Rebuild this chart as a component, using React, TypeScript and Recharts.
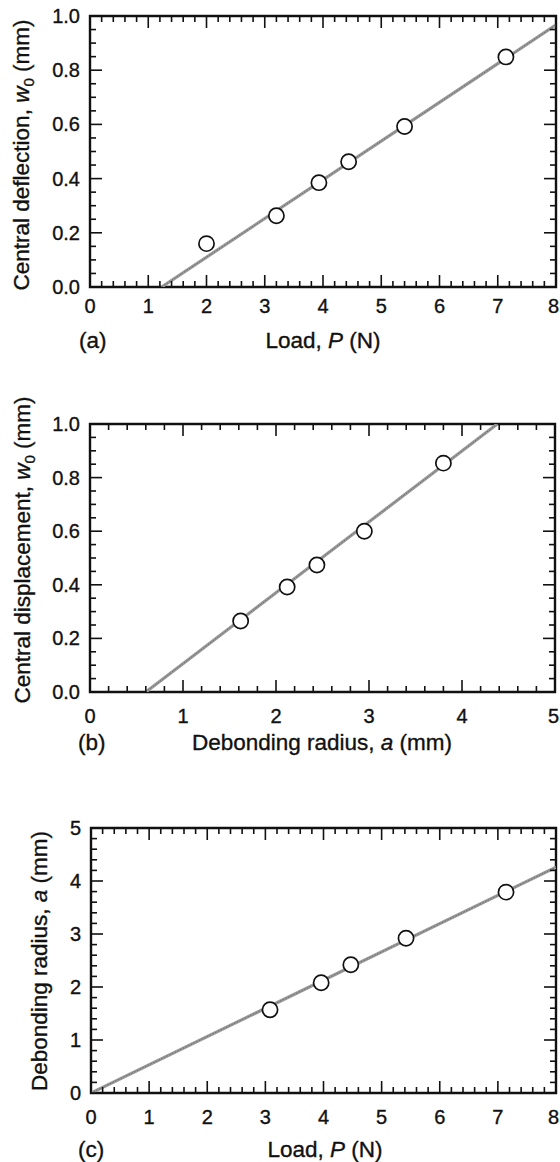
import React from "react";
import {
  ComposedChart,
  XAxis,
  YAxis,
  Scatter,
  Line,
  ReferenceArea,
  Label,
} from "recharts";

// ---------- data ----------
// (a) central deflection vs load
const loadA = [2.0, 3.2, 3.93, 4.44, 5.4, 7.14];
const deflA = [0.16, 0.263, 0.385, 0.462, 0.592, 0.849];
const fitAx = [1.23, 8];
const fitAy = [0, 0.967];

// (b) central displacement vs debonding radius
const radiusB = [1.62, 2.12, 2.44, 2.95, 3.8];
const dispB = [0.265, 0.392, 0.474, 0.6, 0.854];
const fitBx = [0.6, 4.38];
const fitBy = [0, 1.0];

// (c) debonding radius vs load
const loadC = [3.08, 3.96, 4.47, 5.42, 7.14];
const radiusC = [1.57, 2.08, 2.42, 2.92, 3.79];
const fitCx = [0, 8];
const fitCy = [0, 4.26];

// tick labels
const xTicksLoad = [0, 1, 2, 3, 4, 5, 6, 7, 8];
const xTicksRadius = [0, 1, 2, 3, 4, 5];
const yTicksW = [0, 0.2, 0.4, 0.6, 0.8, 1.0];
const yTicksRadius = [0, 1, 2, 3, 4, 5];

const FONT = "'Liberation Sans', Arial, Helvetica, sans-serif";
const TICK_FONT = 20;
const LABEL_FONT = 22.5;
const INK = "#111";

const zip = (xs: number[], ys: number[]) => xs.map((x, i) => ({ x, y: ys[i] }));

function minorTicks(major: number[], step: number): number[] {
  const lo = major[0];
  const hi = major[major.length - 1];
  const n = Math.round((hi - lo) / step);
  const out: number[] = [];
  for (let i = 0; i <= n; i++) out.push(+(lo + i * step).toFixed(4));
  return out;
}

const isMajor = (v: number, major: number[]) => major.some((m) => Math.abs(m - v) < 1e-6);

type PanelCfg = {
  top: number;
  height: number;
  plotLeft: number;
  plotRight: number;
  plotTop: number;
  plotBottom: number;
  xMajor: number[];
  xStep: number;
  yMajor: number[];
  yStep: number;
  yDecimals: number;
  xTickDy: number;
  xLabelY: number;
  tagX: number;
  tag: string;
  xLabel: React.ReactNode;
  xLabelCx: number;
  yLabel: React.ReactNode;
  yLabelCy: number;
  yLabelX: number;
  points: { x: number; y: number }[];
  fit: { x: number; y: number }[];
};

const MAJOR_LEN = 12;
const MINOR_LEN = 6;
const textInk = { fill: INK, stroke: INK, strokeWidth: 0.35 };

function Panel({ c }: { c: PanelCfg }) {
  const W = 560;
  const plotW = c.plotRight - c.plotLeft;
  const plotH = c.plotBottom - c.plotTop;
  const xAxisH = c.top + c.height - c.plotBottom;
  const xDomain = [c.xMajor[0], c.xMajor[c.xMajor.length - 1]];
  const yDomain = [c.yMajor[0], c.yMajor[c.yMajor.length - 1]];

  const XTick = (props: any) => {
    const { x, y, payload } = props;
    const v = payload.value;
    const maj = isMajor(v, c.xMajor);
    const len = maj ? MAJOR_LEN : MINOR_LEN;
    const isLast = Math.abs(v - xDomain[1]) < 1e-6;
    return (
      <g>
        <line x1={x} y1={y} x2={x} y2={y - len} stroke={INK} strokeWidth={1.6} />
        <line x1={x} y1={y - plotH} x2={x} y2={y - plotH + len} stroke={INK} strokeWidth={1.6} />
        {maj && (
          <text
            x={isLast ? W - 1 : x}
            y={y + c.xTickDy}
            textAnchor={isLast ? "end" : "middle"}
            dominantBaseline="central"
            fontSize={TICK_FONT}
            fontFamily={FONT}
            {...textInk}
          >
            {String(v)}
          </text>
        )}
      </g>
    );
  };

  const YTick = (props: any) => {
    const { x, y, payload } = props;
    const v = payload.value;
    const maj = isMajor(v, c.yMajor);
    const len = maj ? MAJOR_LEN : MINOR_LEN;
    return (
      <g>
        <line x1={x} y1={y} x2={x + len} y2={y} stroke={INK} strokeWidth={1.6} />
        <line x1={x + plotW} y1={y} x2={x + plotW - len} y2={y} stroke={INK} strokeWidth={1.6} />
        {maj && (
          <text
            x={x - 10}
            y={y}
            textAnchor="end"
            dominantBaseline="central"
            fontSize={TICK_FONT}
            fontFamily={FONT}
            {...textInk}
          >
            {v.toFixed(c.yDecimals)}
          </text>
        )}
      </g>
    );
  };

  const XLabelContent = () => (
    <g>
      <text
        x={c.tagX}
        y={c.xLabelY - c.top}
        dominantBaseline="central"
        fontSize={LABEL_FONT}
        fontFamily={FONT}
        {...textInk}
      >
        {c.tag}
      </text>
      <text
        x={c.xLabelCx}
        y={c.xLabelY - c.top}
        textAnchor="middle"
        dominantBaseline="central"
        fontSize={LABEL_FONT}
        fontFamily={FONT}
        {...textInk}
      >
        {c.xLabel}
      </text>
    </g>
  );

  const YLabelContent = () => {
    const cy = c.yLabelCy - c.top;
    return (
      <text
        x={c.yLabelX}
        y={cy}
        textAnchor="middle"
        fontSize={LABEL_FONT}
        fontFamily={FONT}
        {...textInk}
        transform={`rotate(-90, ${c.yLabelX}, ${cy})`}
      >
        {c.yLabel}
      </text>
    );
  };

  return (
    <div style={{ position: "absolute", left: 0, top: c.top, width: W, height: c.height }}>
      <ComposedChart
        width={W}
        height={c.height}
        margin={{ top: c.plotTop - c.top, right: W - c.plotRight, bottom: 0, left: 0 }}
      >
        <XAxis
          type="number"
          dataKey="x"
          domain={xDomain}
          ticks={minorTicks(c.xMajor, c.xStep)}
          interval={0}
          height={xAxisH}
          tickSize={0}
          tickMargin={0}
          axisLine={false}
          tickLine={false}
          tick={XTick}
          allowDataOverflow
        >
          <Label content={XLabelContent} />
        </XAxis>
        <YAxis
          type="number"
          dataKey="y"
          domain={yDomain}
          ticks={minorTicks(c.yMajor, c.yStep)}
          interval={0}
          width={c.plotLeft}
          tickSize={0}
          tickMargin={0}
          axisLine={false}
          tickLine={false}
          tick={YTick}
          allowDataOverflow
        >
          <Label content={YLabelContent} />
        </YAxis>
        <ReferenceArea
          x1={xDomain[0]}
          x2={xDomain[1]}
          y1={yDomain[0]}
          y2={yDomain[1]}
          fill="none"
          fillOpacity={0}
          stroke={INK}
          strokeWidth={2.4}
          ifOverflow="visible"
        />
        <Line
          data={c.fit}
          dataKey="y"
          type="linear"
          stroke="#9a9a9a"
          strokeWidth={3.2}
          dot={false}
          activeDot={false}
          isAnimationActive={false}
        />
        <Line
          data={c.fit}
          dataKey="y"
          type="linear"
          stroke="#6a6a6a"
          strokeWidth={1}
          strokeDasharray="1.5 1.5"
          dot={false}
          activeDot={false}
          isAnimationActive={false}
        />
        <Scatter
          data={c.points}
          dataKey="y"
          isAnimationActive={false}
          shape={(p: any) => (
            <circle cx={p.cx} cy={p.cy} r={7.6} fill="#fff" stroke={INK} strokeWidth={1.7} />
          )}
        />
      </ComposedChart>
    </div>
  );
}

const panelA: PanelCfg = {
  top: 0,
  height: 372,
  plotLeft: 90,
  plotRight: 556,
  plotTop: 16,
  plotBottom: 287,
  xMajor: xTicksLoad,
  xStep: 0.2,
  yMajor: yTicksW,
  yStep: 0.05,
  yDecimals: 1,
  xTickDy: 18.5,
  xLabelY: 340,
  tagX: 79,
  tag: "(a)",
  xLabel: (
    <>
      <tspan>Load, </tspan>
      <tspan fontStyle="italic">P</tspan>
      <tspan> (N)</tspan>
    </>
  ),
  xLabelCx: 323,
  yLabel: (
    <>
      <tspan>Central deflection, </tspan>
      <tspan fontStyle="italic">w</tspan>
      <tspan fontSize={15} dy={5}>0</tspan>
      <tspan dy={-5}> (mm)</tspan>
    </>
  ),
  yLabelCy: 155,
  yLabelX: 29,
  points: zip(loadA, deflA),
  fit: zip(fitAx, fitAy),
};

const panelB: PanelCfg = {
  top: 376,
  height: 394,
  plotLeft: 90,
  plotRight: 555,
  plotTop: 424,
  plotBottom: 692,
  xMajor: xTicksRadius,
  xStep: 0.2,
  yMajor: yTicksW,
  yStep: 0.05,
  yDecimals: 1,
  xTickDy: 24,
  xLabelY: 742,
  tagX: 78,
  tag: "(b)",
  xLabel: (
    <>
      <tspan>Debonding radius, </tspan>
      <tspan fontStyle="italic">a</tspan>
      <tspan> (mm)</tspan>
    </>
  ),
  xLabelCx: 322,
  yLabel: (
    <>
      <tspan>Central displacement, </tspan>
      <tspan fontStyle="italic">w</tspan>
      <tspan fontSize={15} dy={5}>0</tspan>
      <tspan dy={-5}> (mm)</tspan>
    </>
  ),
  yLabelCy: 550,
  yLabelX: 30,
  points: zip(radiusB, dispB),
  fit: zip(fitBx, fitBy),
};

const panelC: PanelCfg = {
  top: 775,
  height: 387,
  plotLeft: 91,
  plotRight: 556,
  plotTop: 828,
  plotBottom: 1093,
  xMajor: xTicksLoad,
  xStep: 0.2,
  yMajor: yTicksRadius,
  yStep: 0.2,
  yDecimals: 0,
  xTickDy: 24,
  xLabelY: 1149,
  tagX: 78,
  tag: "(c)",
  xLabel: (
    <>
      <tspan>Load, </tspan>
      <tspan fontStyle="italic">P</tspan>
      <tspan> (N)</tspan>
    </>
  ),
  xLabelCx: 325,
  yLabel: (
    <>
      <tspan>Debonding radius, </tspan>
      <tspan fontStyle="italic">a</tspan>
      <tspan> (mm)</tspan>
    </>
  ),
  yLabelCy: 961,
  yLabelX: 47,
  points: zip(loadC, radiusC),
  fit: zip(fitCx, fitCy),
};

export default function App() {
  return (
    <div
      style={{
        position: "absolute",
        left: 0,
        top: 0,
        width: 560,
        height: 1162,
        background: "#fff",
        overflow: "hidden",
      }}
    >
      <Panel c={panelA} />
      <Panel c={panelB} />
      <Panel c={panelC} />
    </div>
  );
}
